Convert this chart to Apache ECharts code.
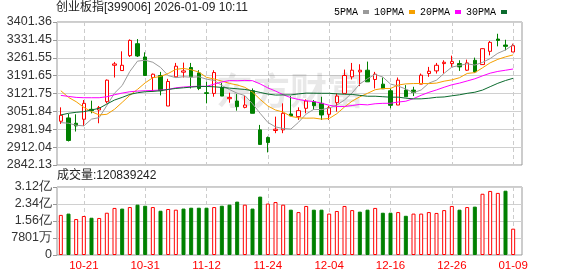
<!DOCTYPE html>
<html><head><meta charset="utf-8">
<script src="https://cdn.jsdelivr.net/npm/echarts@6/dist/echarts.min.js"></script>
<style>html,body{margin:0;padding:0;background:#fff}#c{width:578px;height:276px}</style>
</head><body><div id="c"></div>
<script>
const dates = ['10-16','10-17','10-20','10-21','10-22','10-23','10-24','10-27','10-28','10-29','10-30','10-31',
'11-03','11-04','11-05','11-06','11-07','11-10','11-11','11-12','11-13','11-14','11-17','11-18','11-19','11-20','11-21','11-24','11-25','11-26','11-27','11-28',
'12-01','12-02','12-03','12-04','12-05','12-08','12-09','12-10','12-11','12-12','12-15','12-16','12-17','12-18','12-19','12-22','12-23','12-24','12-25','12-26','12-29','12-30','12-31',
'01-05','01-06','01-07','01-08','01-09'];
const opens = [3013.2,3026.2,3005.4,3021.0,3059.9,3057.3,3089.7,3232.2,3211.5,3269.8,
3316.5,3264.6,3184.3,3192.1,3072.8,3186.9,3205.0,3223.2,3202.4,3124.7,
3122.1,3145.4,3101.3,3092.3,3067.6,3132.5,2979.5,2949.7,2977.0,2979.5,
3041.7,3031.3,3063.8,3089.7,3083.2,3040.4,3085.8,3122.1,3186.9,3206.3,
3212.8,3176.5,3158.3,3132.5,3076.7,3135.0,3135.0,3158.3,3199.8,3210.2,
3238.7,3238.7,3238.7,3212.8,3251.6,3234.8,3286.7,3334.6,3311.3,3284.1];
const closes = [3036.5,2938.0,2995.1,3083.2,3054.7,3066.4,3173.9,3237.4,3232.2,3329.4,
3268.5,3192.1,3197.2,3132.5,3168.7,3228.4,3210.2,3186.9,3141.5,3122.1,
3203.7,3111.7,3106.5,3070.3,3076.7,3044.3,2922.5,2930.3,2982.1,3044.3,
3033.9,3054.7,3092.3,3074.1,3037.8,3066.4,3111.7,3192.1,3212.8,3212.8,
3167.4,3197.2,3140.2,3075.4,3173.9,3109.1,3125.9,3193.3,3208.9,3232.2,
3243.9,3246.5,3225.8,3241.3,3206.3,3297.0,3321.7,3329.4,3306.1,3308.7];
const lows = [3002.8,2934.1,2973.0,2995.1,3044.3,3005.4,3083.2,3184.3,3211.5,3264.6,
3264.6,3192.1,3128.6,3114.3,3072.8,3184.3,3184.3,3141.5,3135.0,3083.2,
3109.1,3111.7,3085.8,3054.7,3063.8,3044.3,2922.5,2891.4,2966.6,2966.6,
3033.9,3018.4,3044.3,3057.3,3018.4,3018.4,3050.8,3122.1,3176.5,3150.6,
3167.4,3141.5,3140.2,3063.8,3076.7,3109.1,3111.7,3158.3,3186.9,3199.8,
3199.8,3225.8,3210.2,3210.2,3202.4,3234.8,3271.1,3306.1,3290.6,3284.1];
const highs = [3067.6,3041.7,3040.4,3096.2,3093.6,3072.9,3176.5,3245.2,3286.7,3333.3,
3334.6,3282.8,3199.8,3206.3,3179.1,3241.3,3242.6,3241.3,3212.8,3167.4,
3212.8,3163.5,3124.7,3119.5,3111.7,3141.5,2998.9,2953.6,3031.3,3083.2,
3111.7,3067.6,3098.8,3096.2,3109.1,3072.9,3122.1,3215.4,3241.3,3236.1,
3246.5,3206.3,3184.3,3141.5,3184.3,3154.5,3148.0,3199.8,3225.8,3241.3,
3251.6,3269.8,3251.6,3254.2,3262.0,3298.3,3326.9,3355.4,3332.0,3316.5];
const ma5 = [3008.0,3005.4,2997.6,2995.1,3021.5,3027.5,3074.7,3123.1,3152.9,3207.9,
3248.3,3251.9,3243.9,3223.9,3191.8,3183.8,3187.4,3185.3,3187.1,3177.8,
3172.9,3153.2,3137.1,3122.9,3113.8,3081.9,3044.1,3008.8,2991.2,2984.7,
2982.6,3009.1,3041.5,3059.9,3058.6,3065.1,3076.5,3096.4,3124.2,3159.2,
3179.4,3196.5,3186.1,3158.6,3150.8,3139.2,3124.9,3135.5,3162.2,3173.9,
3200.8,3225.0,3231.5,3237.9,3232.8,3243.4,3258.4,3279.1,3292.1,3312.6];
const ma10 = [3132.5,3106.5,3089.7,3067.6,3050.8,3037.8,3040.4,3060.0,3087.0,3114.7,
3137.9,3163.3,3183.5,3188.4,3199.9,3216.1,3219.7,3214.6,3205.5,3184.8,
3178.4,3170.3,3161.2,3155.0,3145.8,3127.4,3098.7,3073.0,3057.1,3049.3,
3032.3,3026.6,3025.2,3025.6,3021.7,3023.9,3042.8,3069.0,3092.1,3108.9,
3122.3,3136.5,3141.3,3141.4,3155.0,3159.3,3160.7,3160.8,3160.4,3162.4,
3170.0,3175.0,3183.5,3200.1,3203.4,3222.1,3241.7,3255.3,3265.0,3272.7];
const ma20 = [3114.3,3110.4,3106.5,3105.2,3105.2,3105.2,3109.1,3116.9,3123.4,3128.6,
3131.2,3132.5,3133.7,3135.0,3137.6,3144.1,3147.0,3149.0,3150.0,3149.8,
3158.2,3166.8,3172.4,3171.7,3172.9,3171.8,3159.2,3143.8,3131.3,3117.1,
3105.4,3098.5,3093.2,3090.3,3083.8,3075.7,3070.8,3071.0,3074.6,3079.1,
3077.3,3081.6,3083.3,3083.5,3088.4,3091.6,3101.8,3114.9,3126.3,3135.7,
3146.2,3155.8,3162.4,3170.8,3179.2,3190.7,3201.2,3208.1,3212.7,3217.6];
const ma30 = [3037.8,3044.3,3048.2,3050.8,3057.3,3063.8,3080.6,3096.2,3106.5,3118.2,
3124.7,3128.6,3129.9,3132.5,3137.6,3141.5,3144.1,3146.7,3149.3,3149.3,
3148.0,3145.4,3142.8,3140.2,3137.6,3132.5,3126.0,3119.5,3115.6,3116.3,
3116.2,3120.1,3123.3,3123.0,3122.5,3122.5,3120.4,3118.9,3118.2,3114.3,
3111.0,3111.1,3109.2,3107.3,3107.5,3103.5,3100.7,3100.9,3103.2,3106.9,
3108.2,3112.7,3116.7,3122.4,3126.7,3135.1,3148.4,3161.7,3172.5,3181.3];
// volume in 亿
const volumes = [1.84,1.90,1.65,1.79,1.71,1.70,1.94,2.16,2.13,2.20,
2.31,2.26,2.20,2.03,2.11,2.08,2.13,2.17,2.17,2.17,
2.20,2.26,2.31,2.45,2.31,2.13,2.68,2.36,2.43,2.31,
2.08,1.97,2.25,2.08,2.08,1.90,2.02,2.25,2.06,1.99,
2.08,2.16,1.94,1.94,1.97,1.80,1.90,1.90,1.97,1.93,
2.06,2.25,2.08,2.20,2.22,2.81,2.94,2.85,2.95,1.20839242];
const volDir = [1,-1,1,1,-1,1,1,1,-1,1,
-1,-1,1,-1,1,1,-1,-1,-1,-1,
1,-1,-1,-1,1,-1,-1,1,1,1,
-1,1,1,-1,-1,1,1,1,1,-1,
-1,1,-1,-1,1,-1,1,1,1,1,
1,1,-1,1,-1,1,1,1,-1,1];
const priceTicks = ['2842.13','2912.04','2981.94','3051.84','3121.75','3191.65','3261.55','3331.45','3401.36'];
const volTicks = ['0','7801万','1.56亿','2.34亿','3.12亿'];
const maNames = ['5PMA','10PMA','20PMA','30PMA'];
const titleText = '创业板指[399006] 2026-01-09 10:11';
const volText = '成交量:120839242';
const watermark = '东方财富';

const PMIN = 2842.13, PMAX = 3401.36, PINT = (PMAX - PMIN) / 8;
const VMAX = 3.1204, VINT = VMAX / 4;
const RED = '#ff0000', GREEN = '#008000';
const maColors = ['#9a9a9a', '#f5a000', '#ff00ff', '#0b6b2e'];
const labelFont = { fontFamily: 'Liberation Sans', fontSize: 12.5, color: '#333' };
const showIdx = (i) => (i - 3) % 8 === 0;

const chart = echarts.init(document.getElementById('c'), null, { renderer: 'canvas' });
const gridBase = { containLabel: false, outerBoundsMode: 'none' };
const option = {
  animation: false,
  backgroundColor: '#fff',
  grid: [
    Object.assign({ left: 57, right: 56, top: 22, height: 143, show: true, borderColor: '#999', borderWidth: 1, backgroundColor: 'transparent' }, gridBase),
    Object.assign({ left: 57, width: 460, top: 22, height: 143 }, gridBase),
    Object.assign({ left: 57, right: 56, top: 187, height: 68, show: true, borderColor: '#999', borderWidth: 1, backgroundColor: 'transparent' }, gridBase),
    Object.assign({ left: 57, width: 460, top: 187, height: 68 }, gridBase)
  ],
  xAxis: [
    { gridIndex: 0, type: 'value', min: 0, max: 1, show: false },
    { gridIndex: 1, type: 'category', data: dates, boundaryGap: true,
      axisLine: { show: false }, axisTick: { show: false }, axisLabel: { show: false },
      splitLine: { show: true, interval: showIdx, alignWithLabel: true, lineStyle: { color: '#cccccc', type: [4, 3], width: 1 } } },
    { gridIndex: 2, type: 'value', min: 0, max: 1, show: false },
    { gridIndex: 3, type: 'category', data: dates, boundaryGap: true,
      axisLine: { show: false }, axisTick: { show: false },
      axisLabel: { show: true, interval: showIdx, color: RED, fontFamily: 'Liberation Sans', fontSize: 11.5, margin: 5 },
      splitLine: { show: true, interval: showIdx, alignWithLabel: true, lineStyle: { color: '#cccccc', type: [4, 3], width: 1 } } }
  ],
  yAxis: [
    { gridIndex: 0, type: 'value', min: PMIN, max: PMAX, interval: PINT,
      axisLine: { show: false }, axisTick: { show: true, length: 4, lineStyle: { color: '#999' } },
      axisLabel: Object.assign({ margin: 5, formatter: (v) => { const k = Math.round((v - PMIN) / PINT); return priceTicks[k] || ''; } }, labelFont),
      splitLine: { show: true, lineStyle: { color: '#d0d0d0', width: 1 } } },
    { gridIndex: 1, type: 'value', min: PMIN, max: PMAX, show: false, splitLine: { show: false } },
    { gridIndex: 2, type: 'value', min: 0, max: VMAX, interval: VINT,
      axisLine: { show: false }, axisTick: { show: true, length: 4, lineStyle: { color: '#999' } },
      axisLabel: Object.assign({ margin: 5, formatter: (v) => { const k = Math.round(v / VINT); return volTicks[k] || ''; } }, labelFont),
      splitLine: { show: true, lineStyle: { color: '#d0d0d0', width: 1 } } },
    { gridIndex: 3, type: 'value', min: 0, max: VMAX, show: false, splitLine: { show: false } }
  ],
  legend: {
    right: 66, top: 2, align: 'right', icon: 'rect', itemWidth: 6, itemHeight: 4, itemGap: 5,
    selectedMode: false,
    textStyle: { fontFamily: 'Liberation Mono', fontSize: 10, color: '#000' },
    data: maNames
  },
  graphic: [
    { type: 'text', left: 56, top: 2, z: 10, style: { text: titleText, font: '12px "Liberation Sans", "Noto Sans CJK SC"', fill: '#222' } },
    { type: 'text', left: 57, top: 170, z: 10, style: { text: volText, font: '12px "Liberation Sans", "Noto Sans CJK SC"', fill: '#222' } },
    { type: 'text', left: 216, top: 72, z: 1, silent: true, style: { text: watermark, font: 'bold 37px "Noto Sans CJK SC"', fill: 'rgba(0,0,0,0.09)' } }
  ],
  series: [
    { type: 'candlestick', name: 'K', xAxisIndex: 1, yAxisIndex: 1, barWidth: 4, z: 3,
      data: dates.map((d, i) => [opens[i], closes[i], lows[i], highs[i]]),
      itemStyle: { color: '#ffffff', color0: GREEN, borderColor: RED, borderColor0: GREEN, borderWidth: 1 } },
    ...[ma5, ma10, ma20, ma30].map((arr, k) => ({
      type: 'line', name: maNames[k], xAxisIndex: 1, yAxisIndex: 1, data: arr, z: 4,
      symbol: 'none', showSymbol: false, smooth: false,
      color: maColors[k], lineStyle: { color: maColors[k], width: 1 }
    })),
    { type: 'bar', name: 'VOL', xAxisIndex: 3, yAxisIndex: 3, barWidth: 4, z: 3,
      data: volumes.map((v, i) => ({ value: v, itemStyle: volDir[i] > 0
        ? { color: '#ffffff', borderColor: RED, borderWidth: 1 }
        : { color: GREEN, borderColor: GREEN, borderWidth: 1 } })) }
  ]
};
chart.setOption(option);
</script>
</body></html>
